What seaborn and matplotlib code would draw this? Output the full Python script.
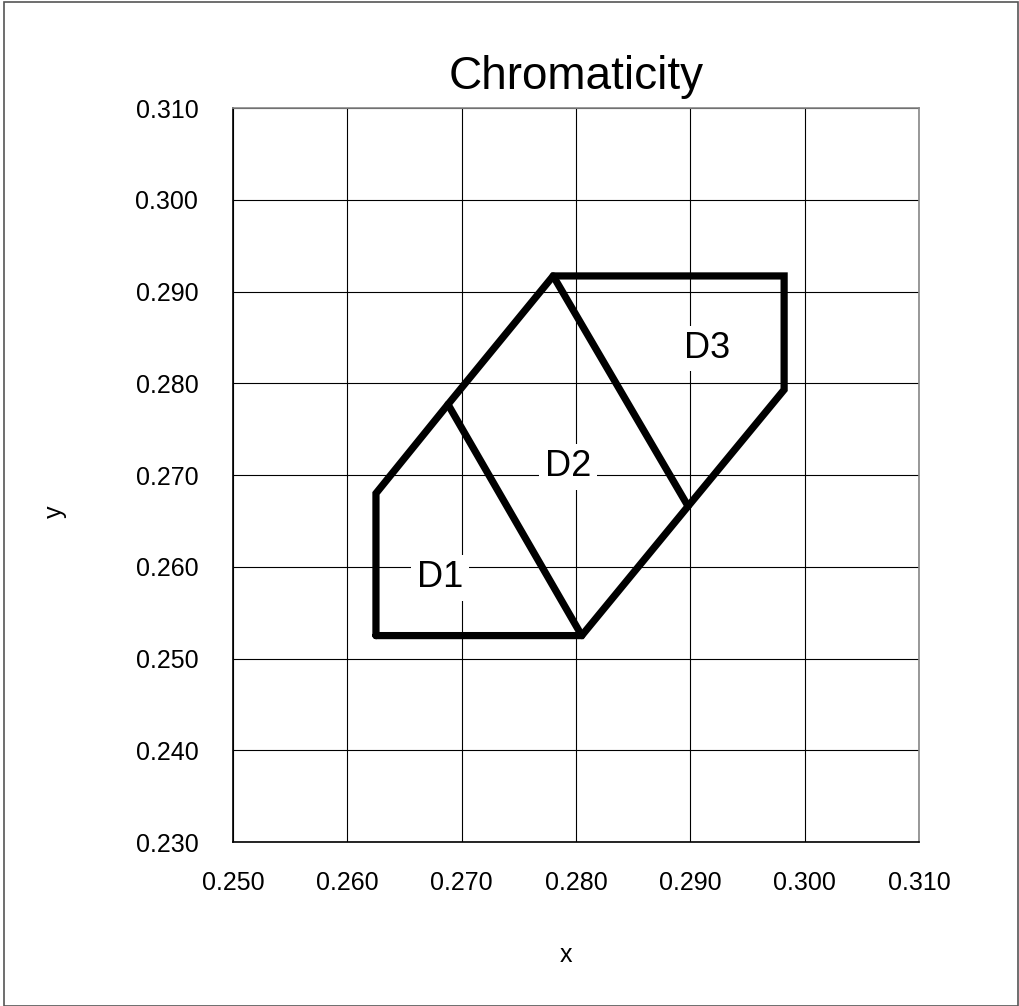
import numpy as np
import pandas as pd
import matplotlib
matplotlib.use("Agg")
import matplotlib.pyplot as plt
import seaborn as sns
from matplotlib.patches import Rectangle

# outline of the three bins (closed)
outline_x = [0.2625, 0.2625, 0.2688, 0.2780, 0.2982, 0.2982, 0.2898, 0.2805, 0.2625]
outline_y = [0.2525, 0.2680, 0.2777, 0.2917, 0.2917, 0.2793, 0.2666, 0.2525, 0.2525]

# dividers between bins
div1_x = [0.2688, 0.2805]
div1_y = [0.2777, 0.2525]
div2_x = [0.2780, 0.2898]
div2_y = [0.2917, 0.2666]

bin_names = ["D1", "D2", "D3"]
bin_x = [0.2681, 0.2793, 0.2915]
bin_y = [0.2588, 0.2709, 0.2838]

xticks = np.round(np.arange(0.250, 0.3101, 0.010), 3)
yticks = np.round(np.arange(0.230, 0.3101, 0.010), 3)

sns.set_style("white")
plt.rcParams['font.family'] = ['Liberation Sans', 'DejaVu Sans']
plt.rcParams['text.color'] = 'black'
plt.rcParams['axes.labelcolor'] = 'black'
plt.rcParams['xtick.color'] = 'black'
plt.rcParams['ytick.color'] = 'black'

fig = plt.figure(figsize=(10.19, 10.06), dpi=100)
ax = fig.add_axes([0.2287, 0.1630, 0.6732, 0.7296])

segs = pd.concat([
    pd.DataFrame({"x": outline_x, "y": outline_y, "seg": "outline"}),
    pd.DataFrame({"x": div1_x, "y": div1_y, "seg": "div1"}),
    pd.DataFrame({"x": div2_x, "y": div2_y, "seg": "div2"}),
], ignore_index=True)

sns.lineplot(data=segs, x="x", y="y", units="seg", estimator=None, sort=False,
             color="black", linewidth=5.2, ax=ax, legend=False, zorder=3)
for line in ax.lines:
    line.set_solid_joinstyle("miter")

for name, tx, ty in zip(bin_names, bin_x, bin_y):
    ax.text(tx, ty, name, fontsize=26, ha="center", va="center", zorder=2,
            color="black", bbox=dict(facecolor="white", edgecolor="none", pad=4))

ax.set_xlim(0.250, 0.310)
ax.set_ylim(0.230, 0.310)
ax.set_xticks(xticks)
ax.set_yticks(yticks)
ax.set_xticklabels([f"{v:.3f}" for v in xticks], fontsize=18)
ax.set_yticklabels([f"{v:.3f}" for v in yticks], fontsize=18)
ax.tick_params(axis="x", length=0, pad=21, labelcolor="black")
ax.tick_params(axis="y", length=0, pad=25, labelcolor="black")
ax.grid(True, color="black", linewidth=0.8, zorder=0)
ax.set_axisbelow(True)
for side in ["left", "bottom"]:
    ax.spines[side].set_color("black")
    ax.spines[side].set_linewidth(1.2)
for side in ["top", "right"]:
    ax.spines[side].set_color("#888888")
    ax.spines[side].set_linewidth(1.2)

ax.set_title("Chromaticity", fontsize=33, pad=14, color="black")
ax.set_xlabel("x", fontsize=18, color="black")
ax.set_ylabel("y", fontsize=18, color="black")
ax.xaxis.set_label_coords(0.485, -0.154)
ax.yaxis.set_label_coords(-0.259, 0.45)
ax.xaxis.label.set_va("center")
ax.yaxis.label.set_va("center")

fig.patches.append(Rectangle((0.004, 0.0), 0.995, 0.998, transform=fig.transFigure,
                             fill=False, edgecolor="#555555", linewidth=1.2))

fig.savefig("out.png", dpi=100, facecolor="white")
